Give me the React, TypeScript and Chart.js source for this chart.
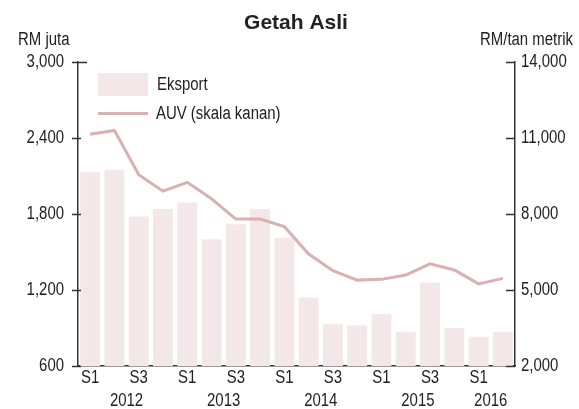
import React, { useEffect, useRef } from "react";
import { Chart, registerables } from "chart.js";

Chart.register(...registerables);

const quarters = ["S1", "S2", "S3", "S4", "S1", "S2", "S3", "S4", "S1", "S2", "S3", "S4", "S1", "S2", "S3", "S4", "S1", "S2"];
const yearOfCategory = ["2012", "2012", "2012", "2012", "2013", "2013", "2013", "2013", "2014", "2014", "2014", "2014", "2015", "2015", "2015", "2015", "2016", "2016"];
const yearLabels = ["2012", "2013", "2014", "2015", "2016"];
const shownQuarterLabels = ["S1", "S3"];
const eksport = [2130, 2150, 1780, 1840, 1890, 1600, 1720, 1840, 1610, 1140, 930, 920, 1010, 870, 1260, 900, 830, 870];
const auv = [11150, 11300, 9550, 8900, 9250, 8600, 7800, 7800, 7500, 6420, 5760, 5390, 5420, 5590, 6030, 5790, 5240, 5460];
const leftTicks = [600, 1200, 1800, 2400, 3000];
const rightTicks = [2000, 5000, 8000, 11000, 14000];

const TITLE = "Getah Asli";
const LEFT_UNIT = "RM juta";
const RIGHT_UNIT = "RM/tan metrik";
const BAR_LABEL = "Eksport";
const LINE_LABEL = "AUV (skala kanan)";

const BAR_COLOR = "rgb(243,231,233)";
const LINE_COLOR = "rgb(217,177,179)";
const AXIS_COLOR = "#333333";
const TEXT_COLOR = "#222222";
const FONT = "'Liberation Sans', Arial, sans-serif";
const SQUEEZE = 0.83;

const fmt = (v: number) => v.toLocaleString("en-US");

function narrowText(ctx: CanvasRenderingContext2D, text: string, x: number, y: number, align: CanvasTextAlign) {
  ctx.save();
  ctx.translate(x, y);
  ctx.scale(SQUEEZE, 1);
  ctx.font = `18px ${FONT}`;
  ctx.textAlign = align;
  ctx.textBaseline = "middle";
  ctx.fillStyle = TEXT_COLOR;
  ctx.fillText(text, 0, 0);
  ctx.restore();
}

const decorPlugin = {
  id: "decor",
  afterDraw(chart: any) {
    const ctx = chart.ctx as CanvasRenderingContext2D;
    const area = chart.chartArea;
    const x = chart.scales.x;
    const y = chart.scales.y;
    const y1 = chart.scales.y1;
    ctx.save();
    // tick marks and tick labels
    ctx.strokeStyle = AXIS_COLOR;
    ctx.lineWidth = 1.5;
    leftTicks.forEach((v) => {
      const py = Math.round(y.getPixelForValue(v)) + 0.5;
      ctx.beginPath();
      ctx.moveTo(area.left - 6, py);
      ctx.lineTo(area.left + (v === leftTicks[leftTicks.length - 1] ? 9 : 3), py);
      ctx.stroke();
      narrowText(ctx, fmt(v), 64, py, "right");
    });
    rightTicks.forEach((v) => {
      const py = Math.round(y1.getPixelForValue(v)) + 0.5;
      ctx.beginPath();
      ctx.moveTo(area.right - 9, py);
      ctx.lineTo(area.right, py);
      ctx.stroke();
      narrowText(ctx, fmt(v), 521, py, "left");
    });
    quarters.forEach((q, i) => {
      if (shownQuarterLabels.includes(q)) narrowText(ctx, q, x.getPixelForValue(i), 378, "center");
    });
    yearLabels.forEach((yr) => {
      const idx: number[] = [];
      yearOfCategory.forEach((c, i) => {
        if (c === yr) idx.push(i);
      });
      const px = idx.reduce((s, i) => s + x.getPixelForValue(i), 0) / idx.length;
      narrowText(ctx, yr, px, 401, "center");
    });
    // title
    ctx.fillStyle = TEXT_COLOR;
    ctx.textBaseline = "middle";
    ctx.textAlign = "center";
    ctx.font = `bold 21px ${FONT}`;
    ctx.fillText(TITLE, 296, 23);
    // axis units
    narrowText(ctx, LEFT_UNIT, 18, 40, "left");
    narrowText(ctx, RIGHT_UNIT, 573, 40, "right");
    // legend
    ctx.fillStyle = BAR_COLOR;
    ctx.fillRect(98, 73, 50, 23);
    ctx.strokeStyle = LINE_COLOR;
    ctx.lineWidth = 3;
    ctx.beginPath();
    ctx.moveTo(98, 113.5);
    ctx.lineTo(148, 113.5);
    ctx.stroke();
    narrowText(ctx, BAR_LABEL, 157, 85, "left");
    narrowText(ctx, LINE_LABEL, 156, 114, "left");
    ctx.restore();
  },
};

export default function App() {
  const ref = useRef<HTMLCanvasElement | null>(null);
  useEffect(() => {
    if (!ref.current) return;
    const chart = new Chart(ref.current, {
      type: "bar",
      data: {
        labels: quarters,
        datasets: [
          {
            type: "line",
            label: LINE_LABEL,
            data: auv,
            yAxisID: "y1",
            borderColor: LINE_COLOR,
            borderWidth: 3,
            pointRadius: 0,
            tension: 0,
            order: 1,
          } as any,
          {
            type: "bar",
            label: BAR_LABEL,
            data: eksport,
            yAxisID: "y",
            backgroundColor: BAR_COLOR,
            barPercentage: 0.82,
            categoryPercentage: 1,
            order: 2,
          } as any,
        ],
      },
      options: {
        responsive: false,
        animation: false,
        layout: { padding: { top: 62, left: 0, right: 0, bottom: 0 } },
        plugins: {
          legend: { display: false },
          title: { display: false },
          tooltip: { enabled: false },
        },
        scales: {
          x: {
            grid: { display: false, drawTicks: false },
            border: { display: true, color: AXIS_COLOR, width: 1.5 },
            ticks: { display: false, autoSkip: false },
            afterFit: (s: any) => {
              s.height = 43;
            },
          },
          y: {
            position: "left",
            min: 600,
            max: 3000,
            grid: { display: false, drawTicks: false },
            border: { display: true, color: AXIS_COLOR, width: 1.5 },
            ticks: { display: false, stepSize: 600 },
            afterFit: (s: any) => {
              s.width = 78;
            },
          },
          y1: {
            position: "right",
            min: 2000,
            max: 14000,
            grid: { display: false, drawTicks: false },
            border: { display: true, color: AXIS_COLOR, width: 1.5 },
            ticks: { display: false, stepSize: 3000 },
            afterFit: (s: any) => {
              s.width = 64;
            },
          },
        },
      } as any,
      plugins: [decorPlugin],
    });
    return () => chart.destroy();
  }, []);
  return (
    <div style={{ position: "absolute", left: 0, top: 0, width: 579, height: 409, background: "#fff" }}>
      <canvas ref={ref} width={579} height={409} style={{ width: 579, height: 409 }} />
    </div>
  );
}
